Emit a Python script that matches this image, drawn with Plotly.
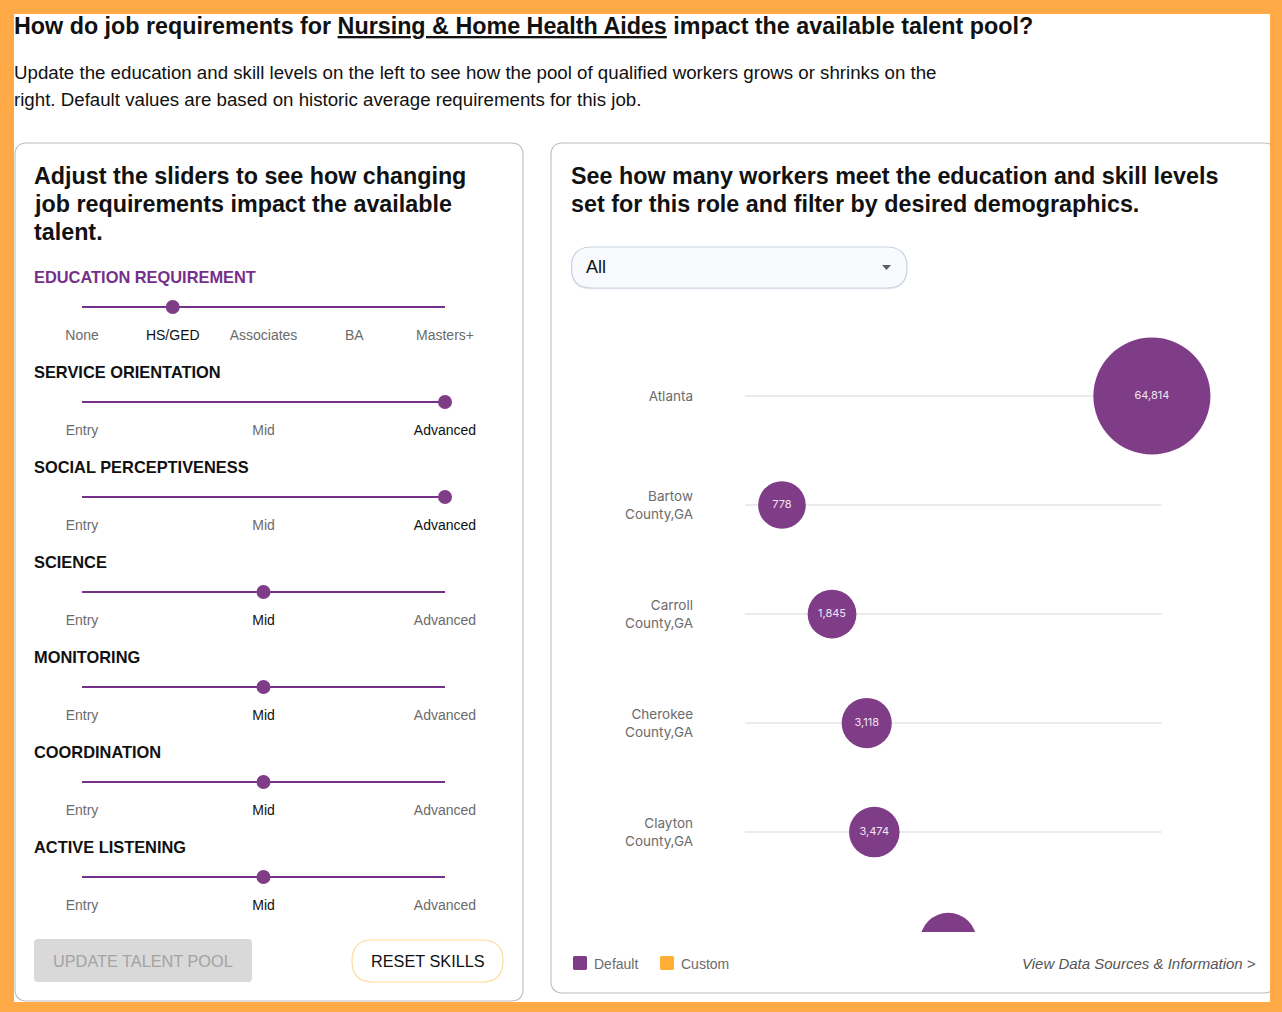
import plotly.graph_objects as go

W, H = 1282, 1012
SANS = "Liberation Sans"
CHART_FONT = "Inter"
PURPLE = "#7F3C87"
LINE_PURPLE = "#76308A"
ORANGE = "#FFAA47"
GREY = "#6B6B6B"

# ---------- data ----------
PLACES = ["Atlanta", "Bartow<br>County,GA", "Carroll<br>County,GA",
          "Cherokee<br>County,GA", "Clayton<br>County,GA", "Cobb<br>County,GA"]
WORKERS = [64814, 778, 1845, 3118, 3474, 9000]
SCALE_MIN, SCALE_MAX = 370, 70000

SLIDER_TITLES = ["EDUCATION REQUIREMENT", "SERVICE ORIENTATION", "SOCIAL PERCEPTIVENESS",
                 "SCIENCE", "MONITORING", "COORDINATION", "ACTIVE LISTENING"]
EDU_LEVELS = ["None", "HS/GED", "Associates", "BA", "Masters+"]
SKILL_LEVELS = ["Entry", "Mid", "Advanced"]
SELECTED = [1, 2, 2, 1, 1, 1, 1]

TITLE = "How do job requirements for <u>Nursing & Home Health Aides</u> impact the available talent pool?"
INTRO = ["Update the education and skill levels on the left to see how the pool of qualified workers grows or shrinks on the",
         "right. Default values are based on historic average requirements for this job."]
LEFT_HEAD = ["Adjust the sliders to see how changing", "job requirements impact the available", "talent."]
RIGHT_HEAD = ["See how many workers meet the education and skill levels", "set for this role and filter by desired demographics."]

# ---------- helpers ----------
def px(x): return x / W
def py(y): return 1 - y / H

def rounded(x0, y0, x1, y1, r):
    def p(x, y): return f"{px(x):.5f},{py(y):.5f}"
    return (f"M{p(x0+r,y0)} L{p(x1-r,y0)} Q{p(x1,y0)} {p(x1,y0+r)} L{p(x1,y1-r)} Q{p(x1,y1)} {p(x1-r,y1)} "
            f"L{p(x0+r,y1)} Q{p(x0,y1)} {p(x0,y1-r)} L{p(x0,y0+r)} Q{p(x0,y0)} {p(x0+r,y0)} Z")

shapes, notes = [], []
def box(x0, y0, x1, y1, r=0, fill="white", line="rgba(0,0,0,0)", lw=0):
    shapes.append(dict(type="path", xref="paper", yref="paper", layer="below",
                       path=rounded(x0, y0, x1, y1, r), fillcolor=fill,
                       line=dict(color=line, width=lw)))

def text(x, y, s, size, color="#111111", bold=False, italic=False, anchor="left", family=SANS):
    if bold: s = f"<b>{s}</b>"
    if italic: s = f"<i>{s}</i>"
    notes.append(dict(xref="paper", yref="paper", x=px(x), y=py(y), text=s, showarrow=False,
                      xanchor=anchor, yanchor="middle", borderpad=0, borderwidth=0,
                      font=dict(family=family, size=size, color=color)))

# ---------- page furniture ----------
box(14, 14, 1270, 1002)
box(15, 143, 523, 1001, 12, "white", "#BDBDBD", 1.1)
box(551, 143, 1276, 993, 12, "white", "#BDBDBD", 1.1)
box(1270, 14, 1282, 1012, 0, ORANGE)
box(571, 248, 907, 289.5, 20, "#E9ECF1")
box(571.5, 247, 907, 288, 20, "#F8FAFE", "#C9D3DF", 1.2)
shapes.append(dict(type="path", xref="paper", yref="paper", layer="above", fillcolor="#5A6068",
                   line=dict(width=0),
                   path=f"M{px(882):.5f},{py(265):.5f} L{px(891):.5f},{py(265):.5f} L{px(886.5):.5f},{py(270):.5f} Z"))
box(34, 939, 252, 982, 4, "#D9D9D9")
box(352, 940, 503, 982, 21, "white", "#FFDB9A", 1.2)
box(573, 956, 587, 970, 1.5, PURPLE)
box(660, 956, 674, 970, 1.5, "#FFAE36")

text(14, 26, TITLE, 23.3, bold=True)
for i, s in enumerate(INTRO):
    text(14, 72 + 28 * i, s, 18.7)
for i, s in enumerate(LEFT_HEAD):
    text(34, 176 + 28 * i, s, 23.3, bold=True)
for i, s in enumerate(RIGHT_HEAD):
    text(571, 176 + 28 * i, s, 23.3, bold=True)
for i, s in enumerate(SLIDER_TITLES):
    text(34, 277 + 95 * i, s, 16.4, bold=True, color="#76308A" if i == 0 else "#111111")
text(586, 267, "All", 18)
text(143, 961, "UPDATE TALENT POOL", 16.3, color="#A3A3A3", anchor="center")
text(427.5, 961, "RESET SKILLS", 16.3, anchor="center")
text(594, 964, "Default", 14, color=GREY)
text(681, 964, "Custom", 14, color=GREY)
text(1256, 963, "View Data Sources & Information >", 15, color="#555555", italic=True, anchor="right")

# ---------- sliders ----------
fig = go.Figure()
for row, pick in enumerate(SELECTED):
    levels = EDU_LEVELS if row == 0 else SKILL_LEVELS
    pos = [k / (len(levels) - 1) for k in range(len(levels))]
    fig.add_trace(go.Scatter(x=[0, 1], y=[row, row], mode="lines", xaxis="x2", yaxis="y2",
                             line=dict(color=LINE_PURPLE, width=2), hoverinfo="skip", cliponaxis=False))
    fig.add_trace(go.Scatter(x=[pos[pick]], y=[row], mode="markers", xaxis="x2", yaxis="y2",
                             marker=dict(color=PURPLE, size=14), hoverinfo="skip", cliponaxis=False))
    fig.add_trace(go.Scatter(x=pos, y=[row + 0.315] * len(pos), mode="text", text=levels,
                             xaxis="x2", yaxis="y2", cliponaxis=False, hoverinfo="skip",
                             textposition="middle center",
                             textfont=dict(family=SANS, size=14,
                                           color=["#111111" if k == pick else GREY for k in range(len(levels))])))

# ---------- talent-pool chart ----------
POWER = 0.19
def scale(v): return v ** POWER
def radius(v): return 23.4 + 0.000542 * v

for i in range(len(PLACES)):
    fig.add_trace(go.Scatter(x=[scale(SCALE_MIN), scale(SCALE_MAX)], y=[i, i], mode="lines",
                             line=dict(color="#E4E4E4", width=1.5), hoverinfo="skip"))
fig.add_trace(go.Scatter(x=[scale(v) for v in WORKERS], y=list(range(len(WORKERS))),
                         mode="markers+text", text=[f"{v:,}" for v in WORKERS],
                         textposition="middle center",
                         textfont=dict(family=CHART_FONT, size=11, color="#F2E6F4"),
                         marker=dict(color=PURPLE, size=[2 * radius(v) for v in WORKERS],
                                     line=dict(width=0), opacity=1),
                         hovertemplate="%{text}<extra></extra>"))

fig.update_layout(
    width=W, height=H, margin=dict(l=0, r=0, t=0, b=0), autosize=False,
    paper_bgcolor=ORANGE, plot_bgcolor="rgba(0,0,0,0)", showlegend=False,
    shapes=shapes, annotations=notes,
    xaxis=dict(domain=[px(697), px(1265)], range=[2.471, 9.634], visible=False, fixedrange=True),
    yaxis=dict(domain=[py(932), py(300)], range=[4.917, -0.881], anchor="x", fixedrange=True,
               tickmode="array", tickvals=list(range(len(PLACES))), ticktext=PLACES,
               showgrid=False, zeroline=False, showline=False, ticks="", ticklabelstandoff=3,
               tickfont=dict(family=CHART_FONT, size=13.5, color=GREY)),
    xaxis2=dict(domain=[px(82), px(445)], range=[0, 1], visible=False, anchor="y2", fixedrange=True),
    yaxis2=dict(domain=[py(931), py(281)], range=[624 / 95, -26 / 95], visible=False, anchor="x2", fixedrange=True),
)

fig.write_html("out.html", config=dict(displayModeBar=False),
               post_script="document.body.style.margin='0';document.documentElement.style.overflow='hidden';")
